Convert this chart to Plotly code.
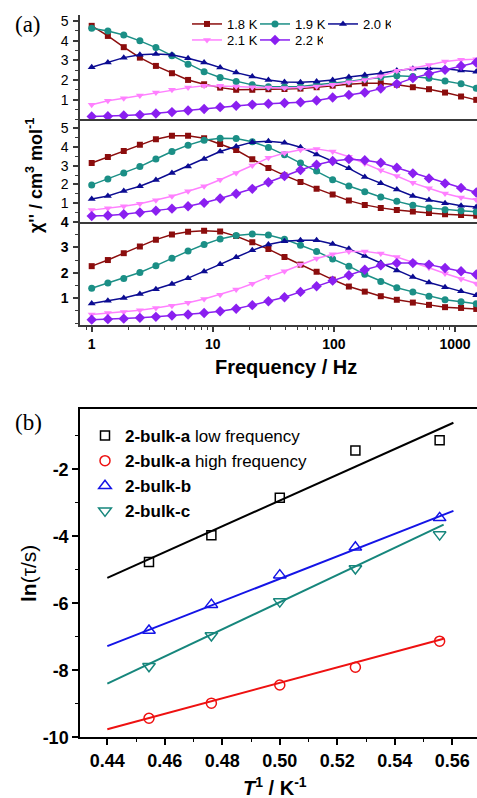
import plotly.graph_objects as go

# ---------------- data: panel (a) ----------------
freq = [1, 1.36, 1.84, 2.5, 3.39, 4.6, 6.25, 8.48, 11.5, 15.6, 21.2, 28.8, 39.1,
        53, 72, 97.7, 133, 180, 244, 331, 449, 610, 828, 1123, 1500]

temps = ["1.8 K", "1.9 K", "2.0 K", "2.1 K", "2.2 K"]

top_18 = [4.75, 4.24, 3.67, 3.14, 2.72, 2.35, 2.01, 1.79, 1.62, 1.51, 1.51, 1.54, 1.55,
          1.57, 1.64, 1.72, 1.79, 1.84, 1.84, 1.77, 1.64, 1.54, 1.37, 1.17, 1.0]
top_19 = [4.63, 4.49, 4.29, 3.99, 3.65, 3.23, 2.81, 2.43, 2.13, 1.93, 1.76, 1.66, 1.66,
          1.68, 1.76, 1.84, 1.93, 2.05, 2.15, 2.22, 2.18, 2.10, 1.96, 1.81, 1.59]
top_20 = [2.65, 2.89, 3.14, 3.28, 3.33, 3.28, 3.11, 2.89, 2.64, 2.38, 2.18, 2.01, 1.91,
          1.89, 1.93, 2.01, 2.16, 2.26, 2.35, 2.49, 2.57, 2.60, 2.57, 2.49, 2.43]
top_21 = [0.75, 0.95, 1.08, 1.22, 1.37, 1.51, 1.62, 1.71, 1.71, 1.68, 1.64, 1.62, 1.60,
          1.62, 1.68, 1.76, 1.89, 2.01, 2.20, 2.47, 2.60, 2.77, 2.94, 3.03, 3.06]
top_22 = [0.16, 0.17, 0.21, 0.24, 0.31, 0.38, 0.46, 0.54, 0.63, 0.70, 0.76, 0.80, 0.84,
          0.88, 0.97, 1.12, 1.25, 1.37, 1.57, 1.81, 2.10, 2.32, 2.52, 2.72, 2.89]

mid_18 = [3.14, 3.46, 3.78, 4.12, 4.42, 4.60, 4.60, 4.47, 4.16, 3.84, 3.35, 2.88, 2.48,
          2.12, 1.77, 1.45, 1.13, 0.90, 0.74, 0.63, 0.54, 0.47, 0.40, 0.36, 0.32]
mid_19 = [1.97, 2.29, 2.61, 2.95, 3.36, 3.76, 4.10, 4.36, 4.47, 4.46, 4.28, 3.98, 3.58,
          3.14, 2.71, 2.25, 1.91, 1.61, 1.32, 1.09, 0.88, 0.74, 0.64, 0.58, 0.53]
mid_20 = [1.22, 1.38, 1.65, 1.90, 2.23, 2.61, 2.96, 3.36, 3.76, 4.03, 4.26, 4.31, 4.23,
          3.99, 3.60, 3.25, 2.86, 2.40, 2.06, 1.72, 1.38, 1.16, 0.99, 0.86, 0.79]
mid_21 = [0.62, 0.72, 0.83, 0.96, 1.15, 1.36, 1.63, 1.90, 2.25, 2.61, 3.01, 3.42, 3.68,
          3.85, 3.90, 3.76, 3.48, 3.12, 2.75, 2.45, 2.08, 1.79, 1.51, 1.30, 1.18]
mid_22 = [0.30, 0.33, 0.40, 0.49, 0.59, 0.70, 0.83, 1.01, 1.24, 1.50, 1.76, 2.11, 2.45,
          2.77, 3.05, 3.25, 3.35, 3.29, 3.16, 2.89, 2.59, 2.32, 2.05, 1.81, 1.56]

bot_18 = [2.26, 2.50, 2.77, 3.03, 3.30, 3.50, 3.61, 3.65, 3.62, 3.44, 3.20, 2.93, 2.62,
          2.32, 2.04, 1.73, 1.46, 1.26, 1.08, 0.94, 0.83, 0.74, 0.65, 0.62, 0.58]
bot_19 = [1.39, 1.60, 1.78, 2.01, 2.28, 2.57, 2.85, 3.11, 3.33, 3.46, 3.52, 3.48, 3.32,
          3.08, 2.84, 2.54, 2.26, 1.94, 1.66, 1.41, 1.25, 1.08, 0.94, 0.86, 0.78]
bot_20 = [0.79, 0.90, 1.01, 1.17, 1.35, 1.56, 1.79, 2.05, 2.33, 2.61, 2.88, 3.11, 3.24,
          3.28, 3.28, 3.13, 2.94, 2.66, 2.39, 2.09, 1.83, 1.62, 1.43, 1.27, 1.12]
bot_21 = [0.36, 0.42, 0.46, 0.53, 0.62, 0.71, 0.82, 0.97, 1.14, 1.34, 1.57, 1.84, 2.06,
          2.32, 2.56, 2.73, 2.84, 2.84, 2.76, 2.62, 2.42, 2.20, 1.97, 1.76, 1.58]
bot_22 = [0.16, 0.18, 0.20, 0.23, 0.27, 0.32, 0.36, 0.42, 0.49, 0.59, 0.73, 0.88, 1.04,
          1.25, 1.47, 1.69, 1.90, 2.12, 2.29, 2.38, 2.38, 2.32, 2.19, 2.06, 1.93]

freq_ticks = [1, 10, 100, 1000]
freq_ticktext = ["1", "10", "100", "1000"]

# ---------------- data: panel (b) ----------------
inv_T = [0.4545, 0.4762, 0.5000, 0.5263, 0.5556]
ln_tau_low = [-4.77, -3.97, -2.85, -1.44, -1.13]
ln_tau_high = [-9.43, -8.98, -8.44, -7.91, -7.13]
ln_tau_b = [-6.81, -6.04, -5.16, -4.33, -3.45]
ln_tau_c = [-7.88, -6.96, -5.95, -4.96, -3.95]

fit_low_x = [0.44, 0.5604]
fit_low_y = [-5.24, -0.61]
fit_high_x = [0.44, 0.557]
fit_high_y = [-9.76, -7.06]
fit_b_x = [0.44, 0.5604]
fit_b_y = [-7.28, -3.24]
fit_c_x = [0.44, 0.557]
fit_c_y = [-8.40, -3.65]

b_yticks = [-10, -8, -6, -4, -2]
b_yticktext = ["-10", "-8", "-6", "-4", "-2"]

# ---------------- figure ----------------
W, H = 477, 798


def fx(p):
    return p / W


def fy(p):
    return 1 - p / H


FONT = "Liberation Sans, Arial, sans-serif"
AXC = "#3a3a3a"

fig = go.Figure()

colors = ["#8b0d0d", "#1b8f86", "#0c0c92", "#ff80ff", "#8a1ff0"]
symbols = ["square", "circle", "triangle-up", "triangle-down", "diamond"]
msizes = [6, 7, 7, 7, 8]
top_sets = [top_18, top_19, top_20, top_21, top_22]
mid_sets = [mid_18, mid_19, mid_20, mid_21, mid_22]
bot_sets = [bot_18, bot_19, bot_20, bot_21, bot_22]

axes = [("x", "y"), ("x2", "y2"), ("x3", "y3")]
for i, name in enumerate(temps):
    for p, data in enumerate([top_sets[i], mid_sets[i], bot_sets[i]]):
        fig.add_trace(go.Scatter(
            x=freq, y=data, mode="lines+markers", name=name,
            line=dict(color=colors[i], width=1.5),
            marker=dict(symbol=symbols[i], size=msizes[i], color=colors[i]),
            xaxis=axes[p][0], yaxis=axes[p][1],
            showlegend=(p == 0),
            legend="legend" if i < 3 else "legend2",
        ))

# panel (b)
b_series = [
    ("<b>2-bulk-a</b> low frequency", ln_tau_low, fit_low_x, fit_low_y, "#000000", "square-open", 9),
    ("<b>2-bulk-a</b> high frequency", ln_tau_high, fit_high_x, fit_high_y, "#ee1111", "circle-open", 10),
    ("<b>2-bulk-b</b>", ln_tau_b, fit_b_x, fit_b_y, "#1414e6", "triangle-up-open", 11),
    ("<b>2-bulk-c</b>", ln_tau_c, fit_c_x, fit_c_y, "#16867c", "triangle-down-open", 11),
]
for name, ys, lx, ly, c, sym, sz in b_series:
    fig.add_trace(go.Scatter(
        x=lx, y=ly, mode="lines", line=dict(color=c, width=2),
        xaxis="x4", yaxis="y4", showlegend=False, hoverinfo="skip"))
for name, ys, lx, ly, c, sym, sz in b_series:
    fig.add_trace(go.Scatter(
        x=inv_T, y=ys, mode="markers", name=name,
        marker=dict(symbol=sym, size=sz, color=c, line=dict(color=c, width=1.5)),
        xaxis="x4", yaxis="y4", legend="legend3"))

reg_tick = dict(family=FONT, size=14, color="black")
bold_tick = dict(family=FONT, size=14, color="black", weight="bold")

common_x = dict(type="log", range=[-0.0966, 3.182], domain=[fx(80), 1],
                showline=True, linecolor=AXC, linewidth=1.5, showgrid=False,
                zeroline=False, automargin=False)
common_y = dict(showline=True, linecolor=AXC, linewidth=1.5, showgrid=False,
                zeroline=False, ticks="outside", ticklen=5, tickwidth=1.5,
                tickcolor=AXC, tickmode="array", tickvals=[1, 2, 3, 4, 5],
                minor=dict(ticks="outside", ticklen=3, tickwidth=1.2,
                           tickcolor=AXC, dtick=0.5, tick0=0),
                ticklabelstandoff=2, automargin=False)

fig.update_layout(
    template="none",
    width=W, height=H, margin=dict(l=0, r=0, t=0, b=0, autoexpand=False),
    paper_bgcolor="white", plot_bgcolor="white",
    font=dict(family=FONT, color="black"),
    xaxis=dict(**common_x, anchor="y", ticks="", showticklabels=False),
    xaxis2=dict(**common_x, anchor="y2", ticks="", showticklabels=False),
    xaxis3=dict(**common_x, anchor="y3", ticks="outside", ticklen=5, tickwidth=1.5,
                tickcolor=AXC, tickvals=freq_ticks, ticktext=freq_ticktext,
                tickfont=bold_tick,
                minor=dict(ticks="outside", ticklen=3, tickwidth=1.2,
                           tickcolor=AXC, dtick="D1")),
    yaxis=dict(**common_y, domain=[fy(119), fy(15)], range=[0.03, 5.3],
               anchor="x", tickfont=reg_tick),
    yaxis2=dict(**common_y, domain=[fy(221.7), fy(119)], range=[0.0, 5.5],
                anchor="x2", tickfont=reg_tick),
    yaxis3=dict(**{**common_y, "tickvals": [1, 2, 3, 4]},
                domain=[fy(325), fy(221.7)], range=[-0.05, 4.005],
                anchor="x3", tickfont=bold_tick),
    xaxis4=dict(domain=[fx(80), 1], range=[0.4305, 0.5686], anchor="y4",
                showline=True, mirror=True, linecolor="black", linewidth=1.5,
                showgrid=False, zeroline=False, ticks="outside", ticklen=6,
                tickwidth=1.5, tickcolor="black", tick0=0.44, dtick=0.02,
                tickformat=".2f", automargin=False,
                tickfont=dict(family=FONT, size=18, color="black", weight="bold"),
                minor=dict(ticks="outside", ticklen=3, tickwidth=1.2,
                           tickcolor="black", dtick=0.01, tick0=0.44)),
    yaxis4=dict(domain=[fy(737.3), fy(409)], range=[-10, -0.2], anchor="x4",
                showline=True, mirror=True, linecolor="black", linewidth=1.5,
                showgrid=False, zeroline=False, ticks="outside", ticklen=6,
                tickwidth=1.5, tickcolor="black", tickmode="array",
                tickvals=b_yticks, ticktext=b_yticktext, automargin=False,
                tickfont=dict(family=FONT, size=18, color="black", weight="bold"),
                minor=dict(ticks="outside", ticklen=3, tickwidth=1.2,
                           tickcolor="black", dtick=1, tick0=0)),
    legend=dict(orientation="h", x=fx(187), xanchor="left", y=fy(24), yanchor="middle",
                entrywidth=23, entrywidthmode="pixels", bgcolor="rgba(0,0,0,0)",
                font=dict(family=FONT, size=13, color="black"), itemwidth=30,
                tracegroupgap=0, borderwidth=0),
    legend2=dict(orientation="h", x=fx(187), xanchor="left", y=fy(40), yanchor="middle",
                 entrywidth=23, entrywidthmode="pixels", bgcolor="rgba(0,0,0,0)",
                 font=dict(family=FONT, size=13, color="black"), itemwidth=30,
                 tracegroupgap=0, borderwidth=0),
    legend3=dict(orientation="v", x=fx(85), xanchor="left", y=fy(418), yanchor="top",
                 bgcolor="rgba(0,0,0,0)", font=dict(family=FONT, size=17, color="black"),
                 tracegroupgap=0, itemwidth=30, borderwidth=0),
)

ann = [
    dict(text="(a)", x=fx(28), y=fy(25), font=dict(family="Liberation Serif, Times New Roman, serif", size=23)),
    dict(text="(b)", x=fx(28), y=fy(422), font=dict(family="Liberation Serif, Times New Roman, serif", size=23)),
    dict(text="<b>χ'' / cm<sup>3</sup> mol<sup>-1</sup></b>", x=fx(34), y=fy(176),
         textangle=-90, font=dict(family=FONT, size=18)),
    dict(text="<b>Frequency / Hz</b>", x=fx(286), y=fy(367), font=dict(family=FONT, size=20)),
    dict(text="<b>ln</b>(τ/s)", x=fx(28), y=fy(574), textangle=-90,
         font=dict(family=FONT, size=21)),
    dict(text="<b><i>T</i><sup>1</sup> / K<sup>-1</sup></b>", x=fx(275), y=fy(786),
         font=dict(family=FONT, size=20)),
]
for a in ann:
    fig.add_annotation(xref="paper", yref="paper", showarrow=False,
                       xanchor="center", yanchor="middle", **a)

fig.write_html("out.html")
